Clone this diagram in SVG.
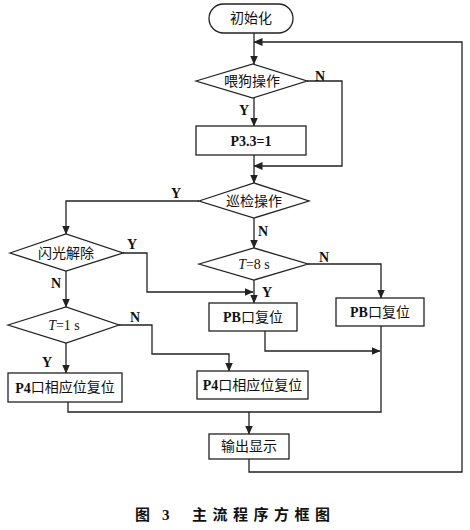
<svg xmlns="http://www.w3.org/2000/svg" width="470" height="530" viewBox="0 0 470 530">
<style>
.box{fill:#fff;stroke:#222;stroke-width:1.3}
.ln{fill:none;stroke:#222;stroke-width:1.3}
.t{font-family:"Liberation Serif","Noto Sans CJK SC",serif;font-size:14px;fill:#111;text-anchor:middle;dominant-baseline:central}
.b{font-weight:bold}
.lb{font-family:"Liberation Serif",serif;font-size:14px;fill:#111;text-anchor:middle;dominant-baseline:central;font-weight:bold}
.cap{font-family:"Liberation Serif","Noto Sans CJK SC",serif;font-size:15px;fill:#111;font-weight:bold}
</style>
<defs>
<marker id="ah" markerWidth="9" markerHeight="8" refX="8.5" refY="4" orient="auto" markerUnits="userSpaceOnUse">
<path d="M0,0 L9,4 L0,8 Z" fill="#222"/>
</marker>
</defs>
<rect width="470" height="530" fill="#fff"/>
<g id="connectors">
<path class="ln" d="M254,33 V64" marker-end="url(#ah)"/>
<path class="ln" d="M249,459 V472 H462 V42 H254" marker-end="url(#ah)"/>
<path class="ln" d="M307,81 H342 V166 H254" marker-end="url(#ah)"/>
<path class="ln" d="M254,98 V126" marker-end="url(#ah)"/>
<path class="ln" d="M254,155 V183" marker-end="url(#ah)"/>
<path class="ln" d="M199,201 H66 V234" marker-end="url(#ah)"/>
<path class="ln" d="M254,218 V248" marker-end="url(#ah)"/>
<path class="ln" d="M123,253 H147 V292 H253" marker-end="url(#ah)"/>
<path class="ln" d="M66,271 V307" marker-end="url(#ah)"/>
<path class="ln" d="M308,264 H381 V298" marker-end="url(#ah)"/>
<path class="ln" d="M254,280 V303" marker-end="url(#ah)"/>
<path class="ln" d="M119,325 H152 V354 H229 V371" marker-end="url(#ah)"/>
<path class="ln" d="M66,343 V373" marker-end="url(#ah)"/>
<path class="ln" d="M265,331 V351 H380" marker-end="url(#ah)"/>
<path class="ln" d="M68,402 V412 H381 V326"/>
<path class="ln" d="M249,412 V434" marker-end="url(#ah)"/>
<g class="lb">
<text x="320" y="76">N</text>
<text x="244" y="110">Y</text>
<text x="176" y="193">Y</text>
<text x="263" y="231">N</text>
<text x="132" y="244">Y</text>
<text x="56" y="283">N</text>
<text x="324" y="257">N</text>
<text x="267" y="292">Y</text>
<text x="135" y="317">N</text>
<text x="47" y="362">Y</text>
</g>
</g>
<g id="init">
<rect class="box" x="209" y="4" width="84" height="29" rx="14.5"/>
<text class="t" x="251" y="18.5">初始化</text>
</g>
<g id="feed">
<polygon class="box" points="196,81 253,64 307,81 253,98"/>
<text class="t" x="252" y="81">喂狗操作</text>
</g>
<g id="p33">
<rect class="box" x="196" y="126" width="110" height="29"/>
<text class="t b" x="251" y="141">P3.3=1</text>
</g>
<g id="patrol">
<polygon class="box" points="199,201 254,183 309,201 254,218"/>
<text class="t" x="254" y="201">巡检操作</text>
</g>
<g id="flash">
<polygon class="box" points="10,253 66,234 123,253 66,271"/>
<text class="t" x="66" y="253">闪光解除</text>
</g>
<g id="t8">
<polygon class="box" points="199,264 254,248 308,264 254,280"/>
<text class="t" x="254" y="264"><tspan font-style="italic">T</tspan>=8 s</text>
</g>
<g id="t1">
<polygon class="box" points="8,325 66,307 119,325 66,343"/>
<text class="t" x="64" y="325"><tspan font-style="italic">T</tspan>=1 s</text>
</g>
<g id="pb1">
<rect class="box" x="209" y="303" width="88" height="28"/>
<text class="t" x="253" y="317"><tspan font-weight="bold">PB</tspan>口复位</text>
</g>
<g id="pb2">
<rect class="box" x="336" y="298" width="88" height="28"/>
<text class="t" x="380" y="312"><tspan font-weight="bold">PB</tspan>口复位</text>
</g>
<g id="p4left">
<rect class="box" x="8" y="373" width="114" height="29"/>
<text class="t" x="65" y="387.5"><tspan font-weight="bold">P4</tspan>口相应位复位</text>
</g>
<g id="p4right">
<rect class="box" x="197" y="371" width="111" height="28"/>
<text class="t" x="252.5" y="385"><tspan font-weight="bold">P4</tspan>口相应位复位</text>
</g>
<g id="output">
<rect class="box" x="209" y="434" width="80" height="25"/>
<text class="t" x="249" y="446.5">输出显示</text>
</g>
<g id="caption">
<text class="cap" x="135" y="520">图</text>
<text class="cap" x="162" y="520">3</text>
<text class="cap" x="192" y="520" letter-spacing="5.5">主流程序方框图</text>
</g>
</svg>
